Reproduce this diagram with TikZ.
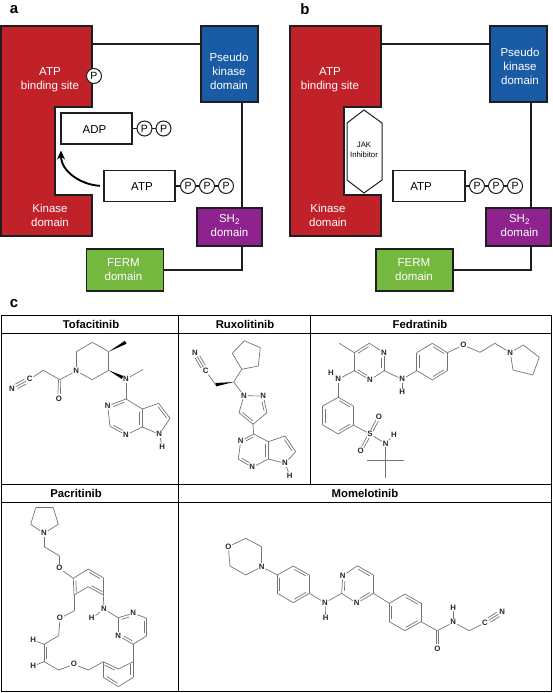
\documentclass[tikz,border=0pt]{standalone}
\usepackage{fontspec}
\setmainfont{Liberation Sans}
\usetikzlibrary{calc,arrows.meta}
\definecolor{kred}{HTML}{C1222A}
\definecolor{kblue}{HTML}{1A5BA6}
\definecolor{kpurple}{HTML}{8E2390}
\definecolor{kgreen}{HTML}{74B83F}
\definecolor{bondc}{HTML}{747474}
\definecolor{framec}{HTML}{1E1E1E}
\tikzset{
 dom/.style={draw=framec,line width=1.1pt,inner sep=0pt,outer sep=0pt},
 domtext/.style={text=white,align=center,font=\fontsize{11.5}{14}\selectfont,inner sep=0pt},
 wire/.style={draw=framec,line width=1.1pt},
 box/.style={draw=framec,fill=white,line width=1.1pt,inner sep=0pt,outer sep=0pt,minimum width=71pt,minimum height=31pt},
 boxtext/.style={font=\fontsize{11.5}{13}\selectfont,inner sep=0pt},
 pcirc/.style={circle,draw=framec,fill=white,line width=1pt,minimum size=15pt,inner sep=0pt,outer sep=0pt,font=\fontsize{10.5}{11}\selectfont},
 panel/.style={font=\bfseries\fontsize{15}{16}\selectfont,inner sep=0pt},
 head/.style={font=\bfseries\fontsize{11.3}{12}\selectfont,inner sep=0pt},
 tline/.style={draw=black,line width=1pt},
 bond/.style={draw=bondc,line width=.7pt},
 atom/.style={font=\bfseries\fontsize{7.8}{8}\selectfont,inner sep=.8pt,text=black!85},
}
\newcommand\A[4]{\node[atom] (#1) at (#2,#3) {#4};}
\newcommand\C[3]{\coordinate (#1) at (#2,#3);}
\newcommand\B[1]{\foreach \pa/\pb in {#1} {\draw[bond] (\pa) -- (\pb);}}
\newcommand\dbl[3][]{\draw[bond,shorten <=2.5pt,shorten >=2.5pt,#1] ($(#2)!2.5pt!90:(#3)$) -- ($(#3)!2.5pt!-90:(#2)$);}
\newcommand\dblc[2]{\draw[bond,shorten >=5pt] ($(#1)!1.2pt!90:(#2)$) -- ($(#2)!1.2pt!-90:(#1)$); \draw[bond,shorten >=5pt] ($(#1)!1.2pt!-90:(#2)$) -- ($(#2)!1.2pt!90:(#1)$);}
\newcommand\wdg[2]{\fill[black] (#1) -- ($(#2)!1.7pt!90:(#1)$) -- ($(#2)!1.7pt!-90:(#1)$) -- cycle;}
\begin{document}
\begin{tikzpicture}[x=1pt,y=-1pt]
\useasboundingbox (0,0) rectangle (553,693);
% ---------- panel a
\node[panel] (la) at (14,10) {a};
\draw[dom,fill=kred] (1,26) -- (92,26) -- (92,107) -- (55,107) -- (55,195) -- (92,195) -- (92,236) -- (1,236) -- cycle;
\coordinate (redAe) at (92,44);
\node[dom,fill=kblue,minimum width=57pt,minimum height=76pt] (blueA) at (229.5,64) {};
\node[dom,fill=kpurple,minimum width=65pt,minimum height=38pt] (purpA) at (229.5,227) {};
\node[dom,fill=kgreen,minimum width=77pt,minimum height=42pt] (greenA) at (125,270) {};
\coordinate (vA) at (242,0);
\draw[wire] (redAe) -- (blueA.west |- redAe);
\draw[wire] (vA |- blueA.south) -- (vA |- purpA.north);
\draw[wire] (vA |- purpA.south) -- (vA |- greenA.east) -- (greenA.east);
\node[domtext] (t1a) at (50,80) {ATP\\binding site};
\node[domtext] (t2a) at (50,215) {Kinase\\domain};
\node[domtext] (t3a) at (229,71) {Pseudo\\kinase\\domain};
\node[domtext] (t4a) at (229.5,226) {SH\textsubscript{2}\\domain};
\node[domtext] (t5a) at (123.5,270) {FERM\\domain};
\node[pcirc] (pk) at (94,76) {P};
\node[box] (adp) at (96.5,128.5) {};
\node[boxtext] (adpt) at (94.5,129.5) {ADP};
\node[pcirc] (ad1) at (144.5,128.5) {P};
\node[pcirc] (ad2) at (163.5,128.5) {P};
\draw[wire] (adp.east) -- (ad1) -- (ad2);
\node[box] (atpA) at (139.5,186) {};
\node[boxtext] (atpAt) at (142,186.5) {ATP};
\node[pcirc] (aa1) at (188,186) {P};
\node[pcirc] (aa2) at (207,186) {P};
\node[pcirc] (aa3) at (226,186) {P};
\draw[wire] (atpA.east) -- (aa1) -- (aa2) -- (aa3);
\draw[line width=1.9pt,black,-{Stealth[length=9pt,width=8pt]},shorten <=4pt,shorten >=6.5pt] (atpA.west) .. controls (82,185) and (61,172) .. (adp.south west);
% ---------- panel b
\node[panel] (lb) at (305,9) {b};
\draw[dom,fill=kred] (290,26) -- (381,26) -- (381,107) -- (344,107) -- (344,195) -- (381,195) -- (381,236) -- (290,236) -- cycle;
\coordinate (redBe) at (381,44);
\node[dom,fill=kblue,minimum width=57pt,minimum height=76pt] (blueB) at (518.5,64) {};
\node[dom,fill=kpurple,minimum width=65pt,minimum height=38pt] (purpB) at (518.5,227) {};
\node[dom,fill=kgreen,minimum width=77pt,minimum height=42pt] (greenB) at (414.5,270) {};
\coordinate (vB) at (531,0);
\draw[wire] (redBe) -- (blueB.west |- redBe);
\draw[wire] (vB |- blueB.south) -- (vB |- purpB.north);
\draw[wire] (vB |- purpB.south) -- (vB |- greenB.east) -- (greenB.east);
\node[domtext] (t1b) at (330,80) {ATP\\binding site};
\node[domtext] (t2b) at (328,215) {Kinase\\domain};
\node[domtext] (t3b) at (520,66) {Pseudo\\kinase\\domain};
\node[domtext] (t4b) at (519.5,226) {SH\textsubscript{2}\\domain};
\node[domtext] (t5b) at (414,270) {FERM\\domain};
\draw[draw=framec,fill=white,line width=1pt] (364,110) -- (382,123) -- (382,180) -- (364,193) -- (347,180) -- (347,123) -- cycle;
\node[font=\fontsize{7.8}{10}\selectfont,align=center,inner sep=0pt] (jak) at (364,150) {JAK\\Inhibitor};
\node[box,minimum width=72pt] (atpB) at (429,186) {};
\node[boxtext] (atpBt) at (421,186.5) {ATP};
\node[pcirc] (ba1) at (477,186) {P};
\node[pcirc] (ba2) at (496,186) {P};
\node[pcirc] (ba3) at (515,186) {P};
\draw[wire] (atpB.east) -- (ba1) -- (ba2) -- (ba3);
% ---------- table
\node[panel] (lc) at (14,304) {c};
\draw[tline] (1,315) rectangle (551.5,691);
\draw[tline] (1,333) -- (551.5,333);
\draw[tline] (1,484.5) -- (551.5,484.5);
\draw[tline] (1,502) -- (551.5,502);
\draw[tline] (178,315) -- (178,691);
\draw[tline] (310,315) -- (310,484.5);
\node[head] (h1) at (91,324) {Tofacitinib};
\node[head] (h2) at (245,324) {Ruxolitinib};
\node[head] (h3) at (420,324) {Fedratinib};
\node[head] (h4) at (76,493) {Pacritinib};
\node[head] (h5) at (365,493) {Momelotinib};
% ---------- Tofacitinib
\A{tN}{76.3}{371}{N} \C{t1}{76.3}{351.7} \C{t2}{92.3}{342.3} \C{t3}{108.7}{351.7} \C{t4}{108.7}{370.3} \C{t5}{92.3}{379.7}
\C{tMe}{125.7}{342.3} \C{tW}{122.5}{377.5}
\A{tNm}{126}{379}{N} \C{tMm}{143}{369.5}
\C{tCO}{59.7}{379.7} \A{tO}{59}{398.7}{O} \C{tCH}{43.3}{370.3} \A{tC}{29.7}{379.3}{C} \A{tNc}{12}{388.7}{N}
\C{tC4}{126}{399} \A{tN3}{107.7}{406}{N} \C{tC2}{110}{426.3} \A{tN1}{126}{435}{N} \C{tC7}{142.3}{427} \C{tC5}{142.3}{409} \C{tC6}{158.7}{403.3} \C{tC8}{170}{418.3} \A{tN7}{159.3}{434.3}{N} \A{tH}{162.3}{447}{H}
\B{tN/t1,t1/t2,t2/t3,t3/t4,t4/t5,t5/tN,tN/tCO,tCO/tCH,tCH/tC,tNm/tMm,tNm/tC4,tC4/tN3,tN3/tC2,tC2/tN1,tN1/tC7,tC7/tC5,tC5/tC4,tC5/tC6,tC6/tC8,tC8/tN7,tN7/tC7,tN7/tH}
\wdg{t3}{tMe} \wdg{t4}{tW}
\dblc{tCO}{tO}
\dbl[shorten >=5pt]{tC4}{tN3} \dbl[shorten >=5pt]{tC2}{tN1} \dbl{tC7}{tC5} \dbl{tC8}{tC6}
\draw[bond] (tC) -- (tNc); \dbl[shorten <=5pt,shorten >=5pt]{tC}{tNc} \dbl[shorten <=5pt,shorten >=5pt]{tNc}{tC}
% ---------- Ruxolitinib
\A{rN}{195}{352.7}{N} \A{rC}{205.7}{371}{C} \C{rCH}{215.7}{384.7} \C{rCt}{233.7}{382}
\C{r1}{241.7}{369.3} \C{r2}{232.3}{353.3} \C{r3}{244.3}{340.7} \C{r4}{260.3}{347.7} \C{r5}{258.3}{366}
\A{rN1}{244}{395.7}{N} \A{rN2}{263.3}{396}{N} \C{rC3}{267}{412.7} \C{rC4}{253}{424.3} \C{rC5}{239}{412.7}
\C{rP4}{253.7}{434} \A{rN3}{240.7}{441}{N} \C{rP2}{238.3}{459} \A{rN4}{252.3}{467.3}{N} \C{rP7}{268.3}{459} \C{rP5}{268.3}{441.7} \C{rP6}{285}{436} \C{rP8}{295.7}{451.7} \A{rN7}{285}{463.3}{N} \A{rH}{289.7}{475.7}{H}
\B{rCt/r1,r1/r2,r2/r3,r3/r4,r4/r5,r5/r1,rC/rCH,rCt/rN1,rN1/rN2,rN2/rC3,rC3/rC4,rC4/rC5,rC5/rN1,rC4/rP4,rP4/rN3,rN3/rP2,rP2/rN4,rN4/rP7,rP7/rP5,rP5/rP4,rP5/rP6,rP6/rP8,rP8/rN7,rN7/rP7,rN7/rH}
\wdg{rCt}{rCH}
\draw[bond] (rC) -- (rN); \dbl[shorten <=5pt,shorten >=5pt]{rC}{rN} \dbl[shorten <=5pt,shorten >=5pt]{rN}{rC}
\dbl[shorten >=5pt]{rC3}{rN2} \dbl{rC5}{rC4} \dbl[shorten >=5pt]{rP4}{rN3} \dbl[shorten >=5pt]{rP2}{rN4} \dbl{rP7}{rP5} \dbl{rP8}{rP6}
% ---------- Fedratinib
\C{fMe}{339.3}{343.3} \C{fC5}{354.3}{352.7} \C{fC6}{369.3}{343.3} \A{fN1}{384}{352.7}{N} \C{fC2}{384}{370.7} \A{fN3}{370}{380}{N} \C{fC4}{354.3}{370.7}
\A{fNl}{338.3}{379.3}{N} \A{fHl}{331}{372.7}{H}
\C{fa1}{338.3}{397.3} \C{fa2}{353.3}{406} \C{fa3}{353.3}{425} \C{fa4}{338.3}{434} \C{fa5}{322.7}{425} \C{fa6}{322.7}{406}
\A{fS}{370}{434}{S} \A{fO1}{379}{417}{O} \A{fO2}{360.7}{450.7}{O} \A{fNs}{385.7}{443.7}{N} \A{fHs}{394}{434.7}{H} \C{ftb}{385.7}{460.7} \C{fm1}{367.3}{460.7} \C{fm2}{404}{460.7} \C{fm3}{385.7}{477.7}
\A{fNr}{402.3}{379.3}{N} \A{fHr}{402.3}{392.3}{H}
\C{fb1}{416.7}{370.7} \C{fb2}{416.7}{352.7} \C{fb3}{432.3}{343.3} \C{fb4}{447.3}{352.7} \C{fb5}{447.3}{370.7} \C{fb6}{432.3}{380}
\A{fO}{463.3}{345}{O} \C{fe1}{480}{352.3} \C{fe2}{495}{343.3} \A{fNp}{510.3}{352.7}{N} \C{fp1}{523.3}{345} \C{fp2}{539.3}{357.3} \C{fp3}{532.7}{375} \C{fp4}{513}{370}
\B{fMe/fC5,fC5/fC6,fC6/fN1,fN1/fC2,fC2/fN3,fN3/fC4,fC4/fC5,fC4/fNl,fNl/fHl,fNl/fa1,fa1/fa2,fa2/fa3,fa3/fa4,fa4/fa5,fa5/fa6,fa6/fa1,fa3/fS,fS/fNs,fNs/fHs,fNs/ftb,ftb/fm1,ftb/fm2,ftb/fm3,fC2/fNr,fNr/fHr,fNr/fb1,fb1/fb2,fb2/fb3,fb3/fb4,fb4/fb5,fb5/fb6,fb6/fb1,fb4/fO,fO/fe1,fe1/fe2,fe2/fNp,fNp/fp1,fp1/fp2,fp2/fp3,fp3/fp4,fp4/fNp}
\dbl{fC6}{fC5} \dbl[shorten >=5pt]{fC2}{fN1} \dbl[shorten >=5pt]{fC4}{fN3}
\dbl{fa6}{fa5} \dbl{fa2}{fa1} \dbl{fa4}{fa3}
\dbl{fb2}{fb1} \dbl{fb4}{fb3} \dbl{fb6}{fb5}
\draw[bond,shorten <=4pt,shorten >=4pt] ($(fS)!1.3pt!90:(fO1)$) -- ($(fO1)!1.3pt!-90:(fS)$);
\draw[bond,shorten <=4pt,shorten >=4pt] ($(fS)!1.3pt!-90:(fO1)$) -- ($(fO1)!1.3pt!90:(fS)$);
\draw[bond,shorten <=4pt,shorten >=4pt] ($(fS)!1.3pt!90:(fO2)$) -- ($(fO2)!1.3pt!-90:(fS)$);
\draw[bond,shorten <=4pt,shorten >=4pt] ($(fS)!1.3pt!-90:(fO2)$) -- ($(fO2)!1.3pt!90:(fS)$);
% ---------- Pacritinib
\A{pN}{44}{533.3}{N} \C{pp1}{30.7}{524.3} \C{pp2}{35.7}{507.7} \C{pp3}{53.3}{507.7} \C{pp4}{58.3}{524.3}
\C{pe1}{44}{546.7} \C{pe2}{59.3}{555.7} \A{pO}{59.3}{568.3}{O}
\C{pa1}{73.3}{578.3} \C{pa2}{88.3}{569} \C{pa3}{103.3}{577.7} \C{pa4}{103.3}{595} \C{pa5}{88.3}{586.7} \C{pa6}{74}{595}
\C{pf1}{74}{611} \A{pO2}{60}{618.3}{O} \C{pf2}{58.7}{635.7} \C{pf3}{44}{644.3} \C{pf4}{44}{661.7} \A{pH1}{33.3}{640}{H} \A{pH2}{33.3}{666}{H}
\C{pf5}{58.7}{670} \A{pO3}{74}{664.3}{O} \C{pf6}{88.3}{670}
\C{pb1}{103.3}{661.7} \C{pb2}{118.3}{669} \C{pb3}{133.3}{661.7} \C{pb4}{133.3}{677.3} \C{pb5}{118.3}{686.7} \C{pb6}{103.3}{677.3}
\A{pNh}{104}{609.3}{N} \A{pHn}{91.7}{618.3}{H} \C{pm2}{118.3}{617.7} \A{pm1}{133.3}{613.3}{N} \C{pm6}{146.7}{618.3} \C{pm5}{146.7}{635.7} \C{pm4}{133.3}{644.3} \A{pm3}{118.3}{635.7}{N}
\B{pN/pp1,pp1/pp2,pp2/pp3,pp3/pp4,pp4/pN,pN/pe1,pe1/pe2,pe2/pO,pO/pa1,pa1/pa2,pa2/pa3,pa3/pa4,pa4/pa5,pa5/pa6,pa6/pa1,pa6/pf1,pf1/pO2,pO2/pf2,pf2/pf3,pf3/pf4,pf3/pH1,pf4/pH2,pf4/pf5,pf5/pO3,pO3/pf6,pf6/pb1,pb1/pb2,pb2/pb3,pb3/pb4,pb4/pb5,pb5/pb6,pb6/pb1,pa4/pNh,pNh/pHn,pNh/pm2,pm2/pm1,pm1/pm6,pm6/pm5,pm5/pm4,pm4/pm3,pm3/pm2,pm4/pb3}
\dbl{pa3}{pa2} \dbl{pa1}{pa6} \dbl{pa5}{pa4} \dbl{pf3}{pf4}
\dbl{pb2}{pb1} \dbl{pb4}{pb3} \dbl{pb6}{pb5}
\dbl[shorten <=5pt]{pm1}{pm2} \dbl{pm5}{pm6} \dbl[shorten <=5pt]{pm3}{pm4}
% ---------- Momelotinib
\A{mO}{228.3}{546.7}{O} \C{mo1}{245.7}{538.3} \C{mo2}{261.7}{546.7} \A{mN}{261.7}{566.7}{N} \C{mo3}{245.7}{575} \C{mo4}{230}{566}
\C{ma1}{277.3}{575} \C{ma2}{293.3}{566} \C{ma3}{309.3}{575} \C{ma4}{309.3}{593.3} \C{ma5}{293.3}{602.7} \C{ma6}{277.3}{593.3}
\A{mNh}{325}{602.7}{N} \A{mHn}{325.7}{618.3}{H} \C{my2}{341.7}{593.3} \A{my1}{342.7}{576}{N} \A{my3}{356.7}{603.3}{N} \C{my4}{373.3}{593.3} \C{my5}{373.3}{575} \C{my6}{357.3}{565.7}
\C{mb1}{389.3}{603.3} \C{mb2}{405}{594} \C{mb3}{421}{603.3} \C{mb4}{421}{621.7} \C{mb5}{405}{630.7} \C{mb6}{389.3}{621.7}
\C{mCO}{437.3}{630.7} \A{mOo}{437.3}{649.3}{O} \A{mNa}{453.3}{622.3}{N} \A{mHa}{453.3}{607.7}{H} \C{mCH}{469.3}{630.7} \A{mC}{485}{622.7}{C} \A{mNc}{502.3}{611.7}{N}
\B{mO/mo1,mo1/mo2,mo2/mN,mN/mo3,mo3/mo4,mo4/mO,mN/ma1,ma1/ma2,ma2/ma3,ma3/ma4,ma4/ma5,ma5/ma6,ma6/ma1,ma4/mNh,mNh/mHn,mNh/my2,my2/my1,my1/my6,my6/my5,my5/my4,my4/my3,my3/my2,my4/mb1,mb1/mb2,mb2/mb3,mb3/mb4,mb4/mb5,mb5/mb6,mb6/mb1,mb4/mCO,mCO/mNa,mNa/mHa,mNa/mCH,mCH/mC}
\dbl{ma3}{ma2} \dbl{ma5}{ma4} \dbl{ma1}{ma6}
\dbl[shorten <=5pt]{my1}{my2} \dbl{my5}{my6} \dbl[shorten <=5pt]{my3}{my4}
\dbl{mb3}{mb2} \dbl{mb5}{mb4} \dbl{mb1}{mb6}
\dblc{mCO}{mOo}
\draw[bond] (mC) -- (mNc); \dbl[shorten <=5pt,shorten >=5pt]{mC}{mNc} \dbl[shorten <=5pt,shorten >=5pt]{mNc}{mC}
\end{tikzpicture}
\end{document}
